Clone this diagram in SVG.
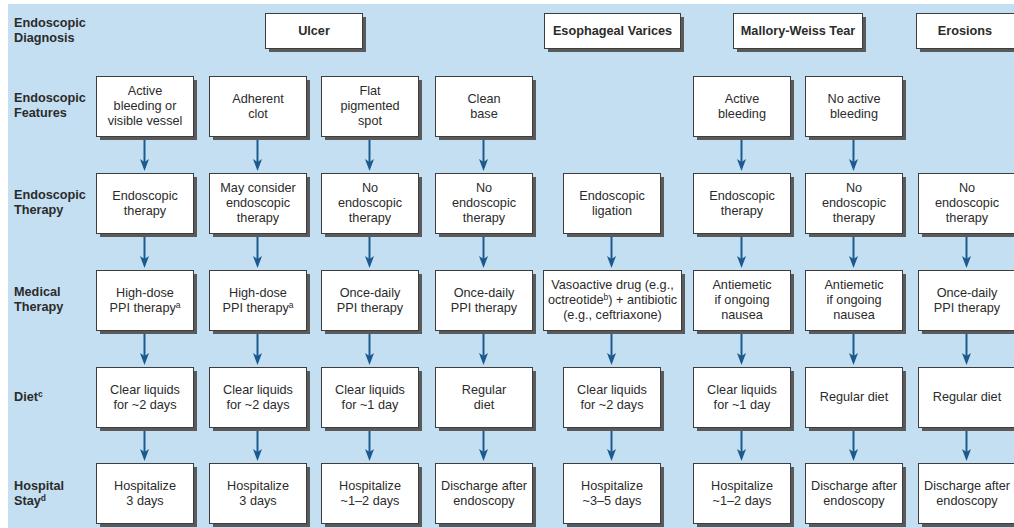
<svg xmlns="http://www.w3.org/2000/svg" width="1014" height="528" viewBox="0 0 1014 528">
<defs>
<style>
.bg{fill:#c5dff2}
.box{fill:#ffffff;stroke:#3d3d3d;stroke-width:1}
.sh{fill:#5a5a5a}
text{font-family:"Liberation Sans",Arial,sans-serif;fill:#2b2b2b}
.t{font-size:12.7px;text-anchor:middle}
.h{font-size:12.7px;font-weight:bold;text-anchor:middle}
.lab{font-size:12.7px;font-weight:bold}
.sup{font-size:8.5px}
.arr{stroke:#1b5a8e;stroke-width:2;fill:none;marker-end:url(#ah)}
</style>
<marker id="ah" viewBox="0 0 12 10" refX="7" refY="5" markerWidth="12" markerHeight="10" markerUnits="userSpaceOnUse" orient="auto">
<path d="M0,0.5 L12,5 L0,9.5 L3,5 Z" fill="#1b5a8e"/>
</marker>
</defs>
<rect x="0" y="0" width="1014" height="528" fill="#ffffff"/>
<rect class="bg" x="8" y="4" width="1006" height="524"/>

<g id="row-labels">
<text class="lab" x="14" y="27">Endoscopic</text>
<text class="lab" x="14" y="42">Diagnosis</text>
<text class="lab" x="14" y="102">Endoscopic</text>
<text class="lab" x="14" y="117">Features</text>
<text class="lab" x="14" y="199">Endoscopic</text>
<text class="lab" x="14" y="214">Therapy</text>
<text class="lab" x="14" y="296">Medical</text>
<text class="lab" x="14" y="311">Therapy</text>
<text class="lab" x="14" y="401">Diet<tspan class="sup" dy="-4">c</tspan></text>
<text class="lab" x="14" y="490">Hospital</text>
<text class="lab" x="14" y="505">Stay<tspan class="sup" dy="-4">d</tspan></text>
</g>

<g id="connectors">
<line class="arr" x1="144.5" y1="136" x2="144.5" y2="166"/>
<line class="arr" x1="257.5" y1="136" x2="257.5" y2="166"/>
<line class="arr" x1="369.5" y1="136" x2="369.5" y2="166"/>
<line class="arr" x1="483.5" y1="136" x2="483.5" y2="166"/>
<line class="arr" x1="741.5" y1="136" x2="741.5" y2="166"/>
<line class="arr" x1="853.5" y1="136" x2="853.5" y2="166"/>

<line class="arr" x1="144.5" y1="233" x2="144.5" y2="263"/>
<line class="arr" x1="257.5" y1="233" x2="257.5" y2="263"/>
<line class="arr" x1="369.5" y1="233" x2="369.5" y2="263"/>
<line class="arr" x1="483.5" y1="233" x2="483.5" y2="263"/>
<line class="arr" x1="611.5" y1="233" x2="611.5" y2="263"/>
<line class="arr" x1="741.5" y1="233" x2="741.5" y2="263"/>
<line class="arr" x1="853.5" y1="233" x2="853.5" y2="263"/>
<line class="arr" x1="966.5" y1="233" x2="966.5" y2="263"/>

<line class="arr" x1="144.5" y1="330" x2="144.5" y2="360"/>
<line class="arr" x1="257.5" y1="330" x2="257.5" y2="360"/>
<line class="arr" x1="369.5" y1="330" x2="369.5" y2="360"/>
<line class="arr" x1="483.5" y1="330" x2="483.5" y2="360"/>
<line class="arr" x1="611.5" y1="330" x2="611.5" y2="360"/>
<line class="arr" x1="741.5" y1="330" x2="741.5" y2="360"/>
<line class="arr" x1="853.5" y1="330" x2="853.5" y2="360"/>
<line class="arr" x1="966.5" y1="330" x2="966.5" y2="360"/>

<line class="arr" x1="144.5" y1="427" x2="144.5" y2="456"/>
<line class="arr" x1="257.5" y1="427" x2="257.5" y2="456"/>
<line class="arr" x1="369.5" y1="427" x2="369.5" y2="456"/>
<line class="arr" x1="483.5" y1="427" x2="483.5" y2="456"/>
<line class="arr" x1="611.5" y1="427" x2="611.5" y2="456"/>
<line class="arr" x1="741.5" y1="427" x2="741.5" y2="456"/>
<line class="arr" x1="853.5" y1="427" x2="853.5" y2="456"/>
<line class="arr" x1="966.5" y1="427" x2="966.5" y2="456"/>
</g>

<!-- Headers -->
<g id="hdr-ulcer"><rect class="sh" x="269" y="17" width="97" height="35"/><rect class="box" x="265.5" y="13.5" width="97" height="35"/><text class="h" x="314" y="35">Ulcer</text></g>
<g id="hdr-varices"><rect class="sh" x="548" y="17" width="136" height="35"/><rect class="box" x="544.5" y="13.5" width="136" height="35"/><text class="h" x="612.5" y="35">Esophageal Varices</text></g>
<g id="hdr-mallory"><rect class="sh" x="737" y="17" width="129" height="35"/><rect class="box" x="733.5" y="13.5" width="129" height="35"/><text class="h" x="798" y="35">Mallory-Weiss Tear</text></g>
<g id="hdr-erosions"><rect class="sh" x="920" y="17" width="98" height="35"/><rect class="box" x="916.5" y="13.5" width="98" height="35"/><text class="h" x="965" y="35">Erosions</text></g>

<!-- Features row (y 76) -->
<g id="f1"><rect class="sh" x="100" y="80" width="97" height="60"/><rect class="box" x="96.5" y="76.5" width="97" height="60"/><text class="t" x="145" y="95">Active</text><text class="t" x="145" y="110">bleeding or</text><text class="t" x="145" y="125">visible vessel</text></g>
<g id="f2"><rect class="sh" x="213" y="80" width="97" height="60"/><rect class="box" x="209.5" y="76.5" width="97" height="60"/><text class="t" x="258" y="102.5">Adherent</text><text class="t" x="258" y="117.5">clot</text></g>
<g id="f3"><rect class="sh" x="325" y="80" width="97" height="60"/><rect class="box" x="321.5" y="76.5" width="97" height="60"/><text class="t" x="370" y="95">Flat</text><text class="t" x="370" y="110">pigmented</text><text class="t" x="370" y="125">spot</text></g>
<g id="f4"><rect class="sh" x="439" y="80" width="97" height="60"/><rect class="box" x="435.5" y="76.5" width="97" height="60"/><text class="t" x="484" y="102.5">Clean</text><text class="t" x="484" y="117.5">base</text></g>
<g id="f6"><rect class="sh" x="697" y="80" width="97" height="60"/><rect class="box" x="693.5" y="76.5" width="97" height="60"/><text class="t" x="742" y="102.5">Active</text><text class="t" x="742" y="117.5">bleeding</text></g>
<g id="f7"><rect class="sh" x="809" y="80" width="97" height="60"/><rect class="box" x="805.5" y="76.5" width="97" height="60"/><text class="t" x="854" y="102.5">No active</text><text class="t" x="854" y="117.5">bleeding</text></g>

<!-- Endoscopic therapy row (y 173) -->
<g id="e1"><rect class="sh" x="100" y="177" width="97" height="60"/><rect class="box" x="96.5" y="173.5" width="97" height="60"/><text class="t" x="145" y="199.5">Endoscopic</text><text class="t" x="145" y="214.5">therapy</text></g>
<g id="e2"><rect class="sh" x="213" y="177" width="97" height="60"/><rect class="box" x="209.5" y="173.5" width="97" height="60"/><text class="t" x="258" y="192">May consider</text><text class="t" x="258" y="207">endoscopic</text><text class="t" x="258" y="222">therapy</text></g>
<g id="e3"><rect class="sh" x="325" y="177" width="97" height="60"/><rect class="box" x="321.5" y="173.5" width="97" height="60"/><text class="t" x="370" y="192">No</text><text class="t" x="370" y="207">endoscopic</text><text class="t" x="370" y="222">therapy</text></g>
<g id="e4"><rect class="sh" x="439" y="177" width="97" height="60"/><rect class="box" x="435.5" y="173.5" width="97" height="60"/><text class="t" x="484" y="192">No</text><text class="t" x="484" y="207">endoscopic</text><text class="t" x="484" y="222">therapy</text></g>
<g id="e5"><rect class="sh" x="567" y="177" width="97" height="60"/><rect class="box" x="563.5" y="173.5" width="97" height="60"/><text class="t" x="612" y="199.5">Endoscopic</text><text class="t" x="612" y="214.5">ligation</text></g>
<g id="e6"><rect class="sh" x="697" y="177" width="97" height="60"/><rect class="box" x="693.5" y="173.5" width="97" height="60"/><text class="t" x="742" y="199.5">Endoscopic</text><text class="t" x="742" y="214.5">therapy</text></g>
<g id="e7"><rect class="sh" x="809" y="177" width="97" height="60"/><rect class="box" x="805.5" y="173.5" width="97" height="60"/><text class="t" x="854" y="192">No</text><text class="t" x="854" y="207">endoscopic</text><text class="t" x="854" y="222">therapy</text></g>
<g id="e8"><rect class="sh" x="922" y="177" width="97" height="60"/><rect class="box" x="918.5" y="173.5" width="97" height="60"/><text class="t" x="967" y="192">No</text><text class="t" x="967" y="207">endoscopic</text><text class="t" x="967" y="222">therapy</text></g>

<!-- Medical therapy row (y 270) -->
<g id="m1"><rect class="sh" x="100" y="274" width="97" height="60"/><rect class="box" x="96.5" y="270.5" width="97" height="60"/><text class="t" x="145" y="296.5">High-dose</text><text class="t" x="145" y="311.5">PPI therapy<tspan class="sup" dy="-4">a</tspan></text></g>
<g id="m2"><rect class="sh" x="213" y="274" width="97" height="60"/><rect class="box" x="209.5" y="270.5" width="97" height="60"/><text class="t" x="258" y="296.5">High-dose</text><text class="t" x="258" y="311.5">PPI therapy<tspan class="sup" dy="-4">a</tspan></text></g>
<g id="m3"><rect class="sh" x="325" y="274" width="97" height="60"/><rect class="box" x="321.5" y="270.5" width="97" height="60"/><text class="t" x="370" y="296.5">Once-daily</text><text class="t" x="370" y="311.5">PPI therapy</text></g>
<g id="m4"><rect class="sh" x="439" y="274" width="97" height="60"/><rect class="box" x="435.5" y="270.5" width="97" height="60"/><text class="t" x="484" y="296.5">Once-daily</text><text class="t" x="484" y="311.5">PPI therapy</text></g>
<g id="m5"><rect class="sh" x="547" y="274" width="138" height="60"/><rect class="box" x="543.5" y="270.5" width="138" height="60"/><text class="t" x="612.5" y="289">Vasoactive drug (e.g.,</text><text class="t" x="612.5" y="304">octreotide<tspan class="sup" dy="-4">b</tspan><tspan dy="4">) + antibiotic</tspan></text><text class="t" x="612.5" y="319">(e.g., ceftriaxone)</text></g>
<g id="m6"><rect class="sh" x="697" y="274" width="97" height="60"/><rect class="box" x="693.5" y="270.5" width="97" height="60"/><text class="t" x="742" y="289">Antiemetic</text><text class="t" x="742" y="304">if ongoing</text><text class="t" x="742" y="319">nausea</text></g>
<g id="m7"><rect class="sh" x="809" y="274" width="97" height="60"/><rect class="box" x="805.5" y="270.5" width="97" height="60"/><text class="t" x="854" y="289">Antiemetic</text><text class="t" x="854" y="304">if ongoing</text><text class="t" x="854" y="319">nausea</text></g>
<g id="m8"><rect class="sh" x="922" y="274" width="97" height="60"/><rect class="box" x="918.5" y="270.5" width="97" height="60"/><text class="t" x="967" y="296.5">Once-daily</text><text class="t" x="967" y="311.5">PPI therapy</text></g>

<!-- Diet row (y 367) -->
<g id="d1"><rect class="sh" x="100" y="371" width="97" height="60"/><rect class="box" x="96.5" y="367.5" width="97" height="60"/><text class="t" x="145" y="393.5">Clear liquids</text><text class="t" x="145" y="408.5">for ~2 days</text></g>
<g id="d2"><rect class="sh" x="213" y="371" width="97" height="60"/><rect class="box" x="209.5" y="367.5" width="97" height="60"/><text class="t" x="258" y="393.5">Clear liquids</text><text class="t" x="258" y="408.5">for ~2 days</text></g>
<g id="d3"><rect class="sh" x="325" y="371" width="97" height="60"/><rect class="box" x="321.5" y="367.5" width="97" height="60"/><text class="t" x="370" y="393.5">Clear liquids</text><text class="t" x="370" y="408.5">for ~1 day</text></g>
<g id="d4"><rect class="sh" x="439" y="371" width="97" height="60"/><rect class="box" x="435.5" y="367.5" width="97" height="60"/><text class="t" x="484" y="393.5">Regular</text><text class="t" x="484" y="408.5">diet</text></g>
<g id="d5"><rect class="sh" x="567" y="371" width="97" height="60"/><rect class="box" x="563.5" y="367.5" width="97" height="60"/><text class="t" x="612" y="393.5">Clear liquids</text><text class="t" x="612" y="408.5">for ~2 days</text></g>
<g id="d6"><rect class="sh" x="697" y="371" width="97" height="60"/><rect class="box" x="693.5" y="367.5" width="97" height="60"/><text class="t" x="742" y="393.5">Clear liquids</text><text class="t" x="742" y="408.5">for ~1 day</text></g>
<g id="d7"><rect class="sh" x="809" y="371" width="97" height="60"/><rect class="box" x="805.5" y="367.5" width="97" height="60"/><text class="t" x="854" y="401">Regular diet</text></g>
<g id="d8"><rect class="sh" x="922" y="371" width="97" height="60"/><rect class="box" x="918.5" y="367.5" width="97" height="60"/><text class="t" x="967" y="401">Regular diet</text></g>

<!-- Hospital stay row (y 463) -->
<g id="s1"><rect class="sh" x="100" y="467" width="97" height="60"/><rect class="box" x="96.5" y="463.5" width="97" height="60"/><text class="t" x="145" y="489.5">Hospitalize</text><text class="t" x="145" y="504.5">3 days</text></g>
<g id="s2"><rect class="sh" x="213" y="467" width="97" height="60"/><rect class="box" x="209.5" y="463.5" width="97" height="60"/><text class="t" x="258" y="489.5">Hospitalize</text><text class="t" x="258" y="504.5">3 days</text></g>
<g id="s3"><rect class="sh" x="325" y="467" width="97" height="60"/><rect class="box" x="321.5" y="463.5" width="97" height="60"/><text class="t" x="370" y="489.5">Hospitalize</text><text class="t" x="370" y="504.5">~1–2 days</text></g>
<g id="s4"><rect class="sh" x="439" y="467" width="97" height="60"/><rect class="box" x="435.5" y="463.5" width="97" height="60"/><text class="t" x="484" y="489.5">Discharge after</text><text class="t" x="484" y="504.5">endoscopy</text></g>
<g id="s5"><rect class="sh" x="567" y="467" width="97" height="60"/><rect class="box" x="563.5" y="463.5" width="97" height="60"/><text class="t" x="612" y="489.5">Hospitalize</text><text class="t" x="612" y="504.5">~3–5 days</text></g>
<g id="s6"><rect class="sh" x="697" y="467" width="97" height="60"/><rect class="box" x="693.5" y="463.5" width="97" height="60"/><text class="t" x="742" y="489.5">Hospitalize</text><text class="t" x="742" y="504.5">~1–2 days</text></g>
<g id="s7"><rect class="sh" x="809" y="467" width="97" height="60"/><rect class="box" x="805.5" y="463.5" width="97" height="60"/><text class="t" x="854" y="489.5">Discharge after</text><text class="t" x="854" y="504.5">endoscopy</text></g>
<g id="s8"><rect class="sh" x="922" y="467" width="97" height="60"/><rect class="box" x="918.5" y="463.5" width="97" height="60"/><text class="t" x="967" y="489.5">Discharge after</text><text class="t" x="967" y="504.5">endoscopy</text></g>
</svg>
